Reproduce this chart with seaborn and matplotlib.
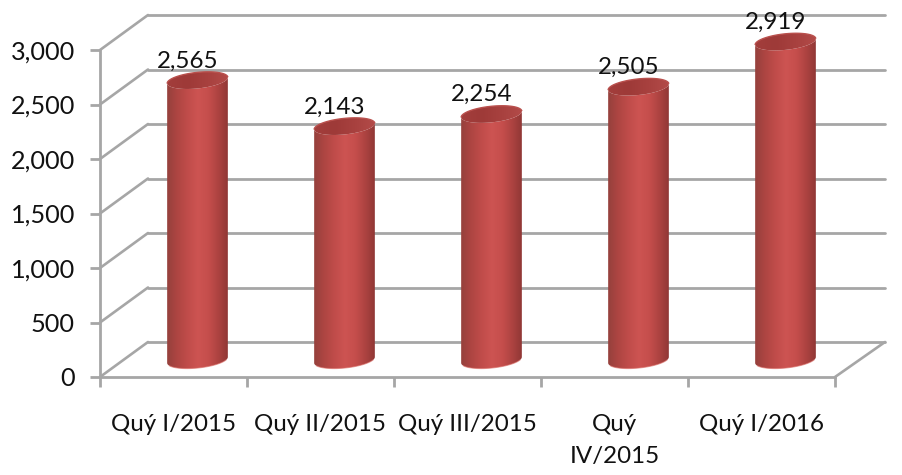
import numpy as np
import pandas as pd
import matplotlib
matplotlib.use("Agg")
import matplotlib.pyplot as plt
import seaborn as sns
from matplotlib.colors import LinearSegmentedColormap
from matplotlib.patches import ConnectionPatch, Polygon
from matplotlib.transforms import IdentityTransform

# Chart values
quarters = ["Quý I/2015", "Quý II/2015", "Quý III/2015", "Quý\nIV/2015", "Quý I/2016"]
values = [2565, 2143, 2254, 2505, 2919]
y_ticks = [0, 500, 1000, 1500, 2000, 2500, 3000]

GRID = "#a6a6a6"
W, H = 903, 475

sns.set_theme(style="white")
plt.rcParams["font.family"] = ["Lato", "DejaVu Sans"]

df = pd.DataFrame({"quarter": quarters, "value": values})
fig = plt.figure(figsize=(W / 100, H / 100), dpi=100)


def px_axes(left, right, top, bottom, z):
    # axes placed with reference pixel coordinates
    a = fig.add_axes([left / W, 1 - bottom / H, (right - left) / W, (bottom - top) / H])
    a.set_zorder(z)
    a.patch.set_visible(False)
    return a


ax_back = px_axes(148, 885, 15, 342, 0)
ax = px_axes(100, 835, 50, 377, 1)
ax_bars = px_axes(124, 859, 33, 360, 2)

for a in (ax_back, ax, ax_bars):
    a.set_xlim(-0.5, 4.5)
    a.set_ylim(0, 3000)

# Back wall and side wall
ax_back.set_xticks([])
ax_back.set_yticks(y_ticks)
ax_back.tick_params(left=False, labelleft=False)
ax_back.grid(axis="y", color=GRID, lw=2.0, clip_on=False)
ax_back.set_axisbelow(True)
sns.despine(ax=ax_back, left=True, bottom=True)
for line in ax_back.get_ygridlines():
    line.set_clip_on(False)

for v in y_ticks:
    fig.add_artist(ConnectionPatch((-0.5, v), (-0.5, v), "data", "data", axesA=ax, axesB=ax_back,
                                   color=GRID, lw=1.9, zorder=0))
fig.add_artist(ConnectionPatch((4.5, 0), (4.5, 0), "data", "data", axesA=ax, axesB=ax_back,
                               color=GRID, lw=1.9, zorder=0))

# Front axes
ax.set_yticks(y_ticks)
ax.set_yticklabels([f"{v:,}" for v in y_ticks])
ax.set_xticks(np.arange(-0.5, 5, 1), minor=False)
ax.set_xticklabels([])
ax.set_xticks(range(5), minor=True)
ax.set_xticklabels(quarters, minor=True, linespacing=1.65, va="top")
ax.tick_params(axis="y", length=7, width=2.0, color=GRID, labelsize=18.2, pad=11, labelcolor="#111111", left=True)
ax.tick_params(axis="x", which="major", length=7, width=2.0, color=GRID, bottom=True)
ax.tick_params(axis="x", which="minor", length=0, labelsize=17.4, pad=26.5, labelcolor="#111111")
sns.despine(ax=ax, top=True, right=True)
for s in ("left", "bottom"):
    ax.spines[s].set_color(GRID)
    ax.spines[s].set_linewidth(2.0)

# Bars, then shaded as cylinders
sns.barplot(data=df, x="quarter", y="value", color="#c0504d", width=0.415, ax=ax_bars, saturation=1)
ax_bars.set_xlabel("")
ax_bars.set_ylabel("")
ax_bars.axis("off")
ax.set_xlabel("")
ax.set_ylabel("")

fig.canvas.draw()
shade = LinearSegmentedColormap.from_list(
    "cyl", ["#93403c", "#ad4542", "#c04c4a", "#cd5452", "#c54e4c", "#ab4240", "#8a3533"])
lid = LinearSegmentedColormap.from_list("lid", ["#a33e3c", "#9e3a38", "#a8413f", "#b44c4a"])
grad = np.linspace(0, 1, 128)[None, :]
TILT = np.deg2rad(6)


def ellipse_pts(cx, cy, a, b, t):
    ex, ey = a * np.cos(t), b * np.sin(t)
    return np.c_[cx + ex * np.cos(TILT) - ey * np.sin(TILT), cy + ex * np.sin(TILT) + ey * np.cos(TILT)]


bars = ax_bars.containers[0]
for patch in bars:
    x0, w, h = patch.get_x(), patch.get_width(), patch.get_height()
    (l, b0), (r, t0) = ax_bars.transData.transform([(x0, 0), (x0 + w, h)])
    cx, a = (l + r) / 2, (r - l) / 2
    low = ellipse_pts(cx, b0, a, 8, np.linspace(np.pi, 2 * np.pi, 40))
    up = ellipse_pts(cx, t0, a, 8, np.linspace(0, np.pi, 40))
    body = Polygon(np.r_[low, ellipse_pts(cx, t0, a, 8, np.linspace(0, -np.pi, 40))],
                   closed=True, transform=IdentityTransform())
    im = ax_bars.imshow(grad, cmap=shade, aspect="auto", extent=(x0 - 0.01, x0 + w + 0.01, -300, h + 200), zorder=3)
    im.set_clip_box(fig.bbox)
    im.set_clip_path(body)
    rim = Polygon(low[4:-4], closed=False, fill=False, ec="#d96a64", lw=0.8, alpha=0.6,
                  transform=IdentityTransform(), zorder=4, clip_on=False)
    ax_bars.add_artist(rim)
    top = Polygon(ellipse_pts(cx, t0, a, 8, np.linspace(0, 2 * np.pi, 80)), closed=True,
                  transform=IdentityTransform(), zorder=5)
    im2 = ax_bars.imshow(grad, cmap=lid, aspect="auto", extent=(x0 - 0.01, x0 + w + 0.01, h - 200, h + 200), zorder=5)
    im2.set_clip_box(fig.bbox)
    im2.set_clip_path(top)
    edge = Polygon(up, closed=False, fill=False, ec="#b9504d", lw=1.0, transform=IdentityTransform(), zorder=6,
                   clip_on=False)
    ax_bars.add_artist(edge)
    patch.set_visible(False)

ax_bars.set_xlim(-0.5, 4.5)
ax_bars.set_ylim(0, 3000)

labels = ax_bars.bar_label(bars, labels=[f"{v:,}" for v in values], padding=6.5, fontsize=17.4, color="#111111", zorder=7)
for t in labels:
    t.set_clip_on(False)
    t.xyann = (t.xyann[0] - 7, t.xyann[1])

fig.savefig("out.png", dpi=100)
